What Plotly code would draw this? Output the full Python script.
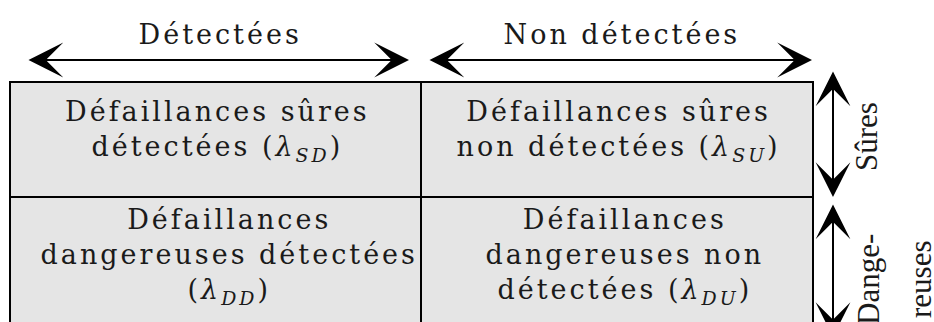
import plotly.graph_objects as go

# ---- content ----
col_labels = ["Détectées", "Non détectées"]
row_labels = [["Sûres"], ["Dange-", "reuses"]]
cell_texts = [
    ["Défaillances sûres<br>détectées (<i>λ<sub>SD</sub></i>)",
     "Défaillances sûres<br>non détectées (<i>λ<sub>SU</sub></i>)"],
    ["Défaillances<br>dangereuses détectées<br>(<i>λ<sub>DD</sub></i>)",
     "Défaillances<br>dangereuses non<br>détectées (<i>λ<sub>DU</sub></i>)"],
]

# ---- layout geometry (pixel space) ----
W, H = 934, 322
col_edges = [10, 421, 813]
row_edges = [82, 197, 345]
row_text_y = [131, 256]
cell_dx = [[0, 0], [12, 6]]
col_label_y = 34
h_arrow_y = 60
h_arrows = [(27, 409), (428, 812)]
v_arrow_x = 833
v_arrows = [(70, 197), (203, 337)]
row_label_pos = [[(866, 137)], [(868, 280), (920, 280)]]

FONT = "DejaVu Serif"
ROT_FONT = "Liberation Serif"
FILL = "#e5e5e5"
TXT = "#1a1a1a"

fig = go.Figure()
shapes = []
for r in range(2):
    for c in range(2):
        shapes.append(dict(type="rect", xref="x", yref="y",
                           x0=col_edges[c], x1=col_edges[c + 1],
                           y0=row_edges[r], y1=row_edges[r + 1],
                           fillcolor=FILL, line=dict(color="black", width=2),
                           layer="below"))

annotations = []
spaced = []
# cell texts
for r in range(2):
    for c in range(2):
        spaced.append(len(annotations))
        annotations.append(dict(
            x=(col_edges[c] + col_edges[c + 1]) / 2 + 1.5 + cell_dx[r][c],
            y=row_text_y[r],
            xref="x", yref="y", text=cell_texts[r][c], showarrow=False,
            font=dict(family=FONT, size=27, color=TXT),
            align="center", xanchor="center", yanchor="middle"))
# column labels
for c, lab in enumerate(col_labels):
    spaced.append(len(annotations))
    annotations.append(dict(
        x=(h_arrows[c][0] + h_arrows[c][1]) / 2 + 2, y=col_label_y,
        xref="x", yref="y", text=lab, showarrow=False,
        font=dict(family=FONT, size=27, color=TXT),
        xanchor="center", yanchor="middle"))
# row labels (rotated)
for r, labs in enumerate(row_labels):
    for (px, py), lab in zip(row_label_pos[r], labs):
        annotations.append(dict(
            x=px, y=py, xref="x", yref="y", text=lab, showarrow=False,
            textangle=-90, font=dict(family=ROT_FONT, size=31, color=TXT),
            xanchor="center", yanchor="middle"))

arrow_style = dict(xref="x", yref="y", axref="x", ayref="y", text="",
                   showarrow=True, arrowhead=3, startarrowhead=3,
                   arrowside="end+start", arrowsize=2.9, startarrowsize=2.9,
                   arrowwidth=2, arrowcolor="black", standoff=0,
                   startstandoff=0)
for (x0, x1) in h_arrows:
    annotations.append(dict(x=x1, y=h_arrow_y, ax=x0, ay=h_arrow_y, **arrow_style))
for (y0, y1) in v_arrows:
    annotations.append(dict(x=v_arrow_x, y=y1, ax=v_arrow_x, ay=y0, **arrow_style))

fig.update_layout(
    width=W, height=H, margin=dict(l=0, r=0, t=0, b=0),
    paper_bgcolor="white", plot_bgcolor="white",
    xaxis=dict(range=[0, W], visible=False, fixedrange=True),
    yaxis=dict(range=[H, 0], visible=False, fixedrange=True),
    shapes=shapes, annotations=annotations, showlegend=False,
)

sel = ", ".join('.annotation[data-index="%d"] text' % i for i in spaced)
css = "html,body{margin:0;padding:0;overflow:hidden}" + sel + "{letter-spacing:3px}"
post = ("var s=document.createElement('style');"
        "s.textContent='" + css.replace("'", "\\'") + "';"
        "document.head.appendChild(s);")

fig.write_html("out.html", config={"displayModeBar": False}, post_script=post)
